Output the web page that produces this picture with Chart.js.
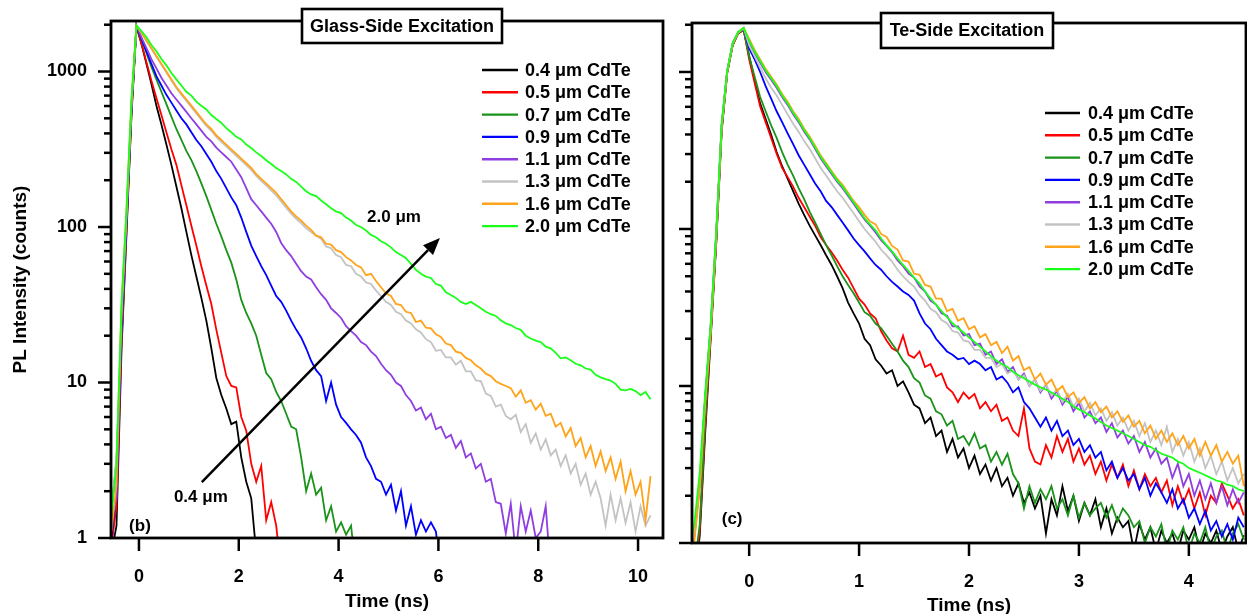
<!DOCTYPE html>
<html>
<head>
<meta charset="utf-8">
<title>PL decay</title>
<script src="https://cdn.jsdelivr.net/npm/chart.js@4.4.1/dist/chart.umd.min.js"></script>
<style>
  html, body { margin: 0; padding: 0; background: #fff; overflow: hidden; }
  #wrap { position: relative; width: 1247px; height: 614px; }
  #glassChart { position: absolute; left: 0; top: 0; }
  #teChart { position: absolute; left: 672px; top: 0; }
</style>
</head>
<body>
<div id="wrap">
  <canvas id="glassChart" width="672" height="614"></canvas>
  <canvas id="teChart" width="575" height="614"></canvas>
</div>
<script>
// ---- data ----
const seriesLabels = ["0.4 μm CdTe", "0.5 μm CdTe", "0.7 μm CdTe", "0.9 μm CdTe",
  "1.1 μm CdTe", "1.3 μm CdTe", "1.6 μm CdTe", "2.0 μm CdTe"];

const yTickValues = [1, 2, 3, 4, 5, 6, 7, 8, 9, 10, 20, 30, 40, 50, 60, 70, 80, 90,
  100, 200, 300, 400, 500, 600, 700, 800, 900, 1000, 2000];
const yTickLabels = [1, 10, 100, 1000];
const glassXTicks = [0, 2, 4, 6, 8, 10];
const teXTicks = [0, 1, 2, 3, 4];

// Glass-side excitation, time in ns
const glassTimes = [
  -0.55, -0.45, -0.35, -0.25, -0.15, -0.05, 0.05, 0.15, 0.25, 0.35,
  0.45, 0.55, 0.65, 0.75, 0.85, 0.95, 1.05, 1.15, 1.25, 1.35,
  1.45, 1.55, 1.65, 1.75, 1.85, 1.95, 2.05, 2.15, 2.25, 2.35,
  2.45, 2.55, 2.65, 2.75, 2.85, 2.95, 3.05, 3.15, 3.25, 3.35,
  3.45, 3.55, 3.65, 3.75, 3.85, 3.95, 4.05, 4.15, 4.25, 4.35,
  4.45, 4.55, 4.65, 4.75, 4.85, 4.95, 5.05, 5.15, 5.25, 5.35,
  5.45, 5.55, 5.65, 5.75, 5.85, 5.95, 6.05, 6.15, 6.25, 6.35,
  6.45, 6.55, 6.65, 6.75, 6.85, 6.95, 7.05, 7.15, 7.25, 7.35,
  7.45, 7.55, 7.65, 7.75, 7.85, 7.95, 8.05, 8.15, 8.25, 8.35,
  8.45, 8.55, 8.65, 8.75, 8.85, 8.95, 9.05, 9.15, 9.25, 9.35,
  9.45, 9.55, 9.65, 9.75, 9.85, 9.95, 10.05, 10.15, 10.25
];
const glass04 = [0.8, 1.2, 16, 90, 520, 1950, 1510, 1122, 832, 603, 457, 339, 251, 182, 132, 93,
  66, 48, 35, 25, 16.6, 10.7, 8.3, 6.8, 5.4, 5.6, 3.3, 2.3, 1.8, 0.8];
const glass05 = [0.9, 1.6, 18, 95, 540, 1960, 1514, 1148, 871, 676, 525, 407, 316, 251, 186, 138,
  102, 76, 56, 42, 32, 21.9, 15.5, 11.0, 9.5, 9.3, 6.0, 4.9, 3.0, 2.3, 2.9, 1.3, 1.7, 1.2, 0.6];
const glass07 = [1.5, 3.2, 20, 100, 560, 1970, 1622, 1318, 1072, 891, 741, 617, 513, 427, 363, 309,
  269, 229, 191, 158, 129, 105, 87, 71, 59, 46, 34, 28, 24, 20, 15.1, 11.5, 10.5, 8.7, 7.6, 6.3,
  5.2, 5.0, 3.3, 2.0, 2.6, 1.9, 2.1, 1.3, 1.6, 1.1, 1.26, 1.05, 1.2, 0.6];
const glass09 = [1.0, 2.0, 22, 105, 580, 1960, 1622, 1349, 1122, 933, 813, 708, 631, 562, 501, 457,
  407, 363, 331, 295, 263, 229, 204, 178, 155, 138, 115, 93, 76, 65, 56, 49, 42, 36, 33, 29,
  25, 21.9, 19.5, 16.6, 13.8, 12.0, 11.0, 7.6, 10.0, 7.2, 6.0, 5.5, 5.0, 4.6, 4.1, 3.3, 2.9, 2.4,
  2.3, 1.9, 2.2, 1.5, 2.0, 1.2, 1.6, 1.05, 1.3, 1.1, 1.26, 1.1, 0.6];
const glass11 = [1.3, 1.8, 24, 110, 600, 1970, 1660, 1413, 1202, 1047, 912, 813, 724, 661, 603, 550,
  501, 457, 417, 380, 355, 324, 302, 282, 263, 234, 209, 178, 151, 138, 126, 115, 105, 93, 79, 71,
  65, 58, 52, 48, 46, 41, 37, 34, 30, 28, 26, 23, 21.4, 20.0, 18.2, 17.4, 15.8, 14.8, 13.2, 12.0,
  11.2, 10.0, 9.5, 8.3, 7.6, 6.6, 6.9, 5.8, 6.3, 5.0, 5.2, 4.4, 4.6, 3.8, 4.2, 3.3, 3.5, 2.8,
  3.0, 2.3, 2.4, 1.7, 1.66, 1.07, 1.66, 0.8, 1.6, 1.1, 1.5, 1.0, 1.1, 1.6, 0.6];
const glass13 = [1.5, 3.3, 28, 120, 620, 1980,
  1770, 1570, 1400, 1245, 1105, 985, 875, 780, 708, 646,
  590, 537, 490, 447, 416, 380, 353, 330, 308, 287,
  268, 250, 233, 213, 198, 185, 172, 160, 146, 133,
  122, 113, 106, 98,
  93, 88, 84, 75, 73, 66, 64, 57, 56, 50,
  48, 44, 43, 39, 36, 33, 31.5, 28.5, 27.5, 25,
  24, 22, 21, 19, 18.2, 16, 16.2, 14.5, 14.5, 13,
  13.8, 11.8, 11.8, 10.3, 10.2, 8.5, 8.2, 7.0, 7.2, 6.1,
  5.8, 6.2, 4.8, 5.4, 4.1, 4.7, 3.7, 4.3, 3.4, 3.7,
  2.9, 3.4, 2.6, 3.0, 2.2, 2.6, 1.9, 2.3, 1.8, 1.2,
  1.9, 1.3, 1.8, 1.25, 1.7, 1.1, 1.6, 1.2, 1.4];
const glass16 = [1.1, 2.2, 30, 125, 640, 1980,
  1778, 1585, 1413, 1259, 1122, 1000, 891, 794, 724, 661,
  603, 550, 501, 457, 427, 389, 363, 339, 316, 295,
  275, 257, 240, 219, 204, 191, 178, 166, 151, 138,
  126, 117, 110, 102,
  96, 88, 86, 78, 77, 71, 69, 64, 61, 57,
  55, 49, 50, 45, 41, 37.5, 36, 32, 31.5, 28.5,
  28, 24.5, 25, 22.5, 22.3, 20.4, 19.6, 17.8, 17.4, 15.8,
  15.5, 14.4, 13.9, 12.9, 12.3, 11.4, 11.0, 10.2, 9.8, 9.5,
  9.2, 8.1, 8.9, 7.4, 7.7, 6.7, 7.3, 6.1, 6.3, 5.2,
  5.5, 4.5, 5.1, 3.9, 4.4, 3.3, 3.9, 2.9, 3.6, 2.7,
  3.3, 2.4, 3.1, 2.0, 2.7, 1.9, 2.3, 1.3, 2.5];
const glass20 = [1.4, 3.0, 32, 130, 660, 1980,
  1820, 1660, 1479, 1349, 1202, 1096, 977, 891, 813, 741,
  700, 640, 603, 570, 525, 495, 468, 432, 407, 380,
  366, 339, 322, 302, 286, 269, 254, 240, 229, 218,
  204, 195, 182, 170, 162, 158, 148, 140, 132, 126,
  123, 115, 110, 103, 100, 95, 89, 86, 81, 78,
  74, 69, 66, 63, 58, 53, 50, 48, 47, 43,
  42, 38, 36.5, 35, 33, 32, 33, 31.5, 30, 28.5,
  27.5, 26.8, 25.1, 24, 23.4, 22.4, 21.8, 20.0, 19.2, 18.6,
  18.2, 17.0, 16.6, 15.5, 14.3, 14.5, 13.9, 13.2, 12.9, 12.3,
  12.1, 11.2, 10.8, 10.5, 10.3, 9.8, 9.0, 8.9, 9.1, 8.8,
  8.3, 8.7, 7.8];

// Te-side excitation, time in ns
const teTimes = [
  -0.55, -0.5, -0.45, -0.4, -0.35, -0.3, -0.25, -0.2, -0.15, -0.1,
  -0.05, 0, 0.05, 0.1, 0.15, 0.2, 0.25, 0.3, 0.35, 0.4,
  0.45, 0.5, 0.55, 0.6, 0.65, 0.7, 0.75, 0.8, 0.85, 0.9,
  0.95, 1, 1.05, 1.1, 1.15, 1.2, 1.25, 1.3, 1.35, 1.4,
  1.45, 1.5, 1.55, 1.6, 1.65, 1.7, 1.75, 1.8, 1.85, 1.9,
  1.95, 2, 2.05, 2.1, 2.15, 2.2, 2.25, 2.3, 2.35, 2.4,
  2.45, 2.5, 2.55, 2.6, 2.65, 2.7, 2.75, 2.8, 2.85, 2.9,
  2.95, 3, 3.05, 3.1, 3.15, 3.2, 3.25, 3.3, 3.35, 3.4,
  3.45, 3.5, 3.55, 3.6, 3.65, 3.7, 3.75, 3.8, 3.85, 3.9,
  3.95, 4, 4.05, 4.1, 4.15, 4.2, 4.25, 4.3, 4.35, 4.4,
  4.45, 4.5
];
const te04 = [0.5, 0.6, 1.1, 5.0, 20, 80, 420, 980, 1480, 1760, 1850,
  1259, 891, 631, 501, 398, 309, 251, 209, 174, 145,
  123, 105, 91, 79, 68, 59, 50, 42, 34, 29,
  25, 20, 18.2, 14.8, 13.5, 12.0, 12.6, 10.0, 10.7, 9.1,
  7.6, 7.2, 5.8, 6.3, 4.8, 5.2, 3.8, 4.6, 3.5, 4.0,
  3.0, 3.6, 2.75, 3.16, 2.5, 3.0, 2.3, 2.6, 2.0, 2.4,
  1.8, 2.1, 1.66, 2.0, 1.15, 1.9, 1.5, 2.3, 1.6, 2.0,
  1.38, 1.8, 1.5, 1.9, 1.26, 1.66, 1.15, 1.45, 1.26, 1.38,
  0.89, 1.32, 1.05, 1.26, 0.89, 1.2, 1.0, 1.15, 0.89, 1.2,
  1.05, 1.26, 0.89, 1.15, 1.0, 1.2, 0.89, 1.1, 1.26, 0.89,
  1.12];
const te05 = [0.5, 0.6, 1.2, 5.5, 21, 82, 430, 990, 1490, 1770, 1860,
  1202, 851, 603, 479, 380, 302, 245, 214, 186, 158,
  138, 120, 105, 89, 79, 71, 63, 55, 49, 42,
  36, 33, 29, 27, 22.4, 19.5, 17.4, 16.6, 20.9, 15.8,
  15.1, 16.6, 13.2, 13.8, 11.5, 12.0, 9.8, 9.1, 7.9, 9.1,
  8.3, 8.9, 7.2, 7.9, 6.9, 7.6, 6.0, 6.3, 5.2, 4.8,
  7.2, 4.0, 3.3, 3.16, 4.2, 3.5, 4.8, 3.8, 4.6, 3.3,
  4.0, 3.16, 3.6, 2.75, 3.3, 2.5, 3.16, 2.6, 3.16, 2.3,
  2.9, 2.2, 2.75, 2.3, 2.6, 2.1, 2.5, 1.74, 2.3, 1.8,
  2.2, 1.66, 2.1, 1.5, 2.0, 1.8, 2.4, 2.0, 1.66, 1.9,
  1.5];
const te07 = [0.5, 0.7, 1.3, 6.0, 22, 85, 440, 1000, 1500, 1780, 1860,
  1259, 933, 692, 562, 457, 380, 309, 257, 219, 182,
  155, 129, 110, 93, 79, 68, 58, 50, 44, 39,
  34, 29.5, 28, 25, 23.4, 20.9, 18.6, 16.6, 14.5, 13.2,
  11.2, 10.5, 8.7, 8.3, 6.9, 6.6, 5.6, 6.0, 4.6, 4.8,
  4.2, 5.0, 4.0, 4.2, 3.3, 3.8, 3.16, 3.7, 2.75, 2.4,
  1.66, 2.3, 1.8, 2.2, 1.9, 2.3, 1.66, 1.9, 1.5, 2.0,
  1.45, 1.8, 1.5, 1.66, 1.8, 1.45, 1.74, 1.38, 1.66, 1.5,
  1.26, 1.38, 1.0, 1.26, 1.1, 1.32, 0.89, 1.2, 1.05, 1.26,
  0.89, 1.15, 1.0, 1.26, 0.89, 1.1, 1.2, 0.89, 1.15, 1.32,
  1.05];
const te09 = [0.7, 1.1, 2.4, 8.5, 24, 92, 460, 1010, 1520, 1790, 1900,
  1413, 1202, 1000, 813, 676, 562, 479, 407, 347, 295,
  257, 224, 195, 174, 151, 138, 123, 110, 98, 87,
  79, 72, 65, 59, 55, 50, 46, 43, 40, 38,
  35, 29, 25, 23, 20, 18.2, 16.6, 15.8, 14.8, 15.1,
  13.8, 14.5, 13.8, 12.6, 13.2, 11.0, 11.5, 10.5, 9.1, 9.8,
  7.9, 7.2, 6.3, 5.5, 6.3, 5.2, 6.0, 4.8, 5.2, 4.2,
  4.6, 3.8, 4.2, 3.5, 3.8, 2.9, 3.3, 2.6, 3.0, 2.5,
  2.75, 2.2, 2.6, 2.0, 2.4, 2.1, 1.8, 2.2, 1.66, 1.9,
  1.45, 1.66, 1.32, 1.6, 1.2, 1.38, 1.1, 1.32, 1.05, 1.45,
  1.26];
const te11 = [0.7, 1.1, 2.3, 8.2, 23, 90, 455, 1005, 1515, 1785, 1900,
  1549, 1318, 1148, 1000, 891, 794, 692, 617, 537, 479,
  417, 372, 324, 282, 251, 224, 200, 182, 162, 145,
  129, 115, 105, 95, 85, 78, 71, 63, 58, 52,
  49, 43, 40, 35, 33, 29, 28, 24, 24, 21,
  21.4, 18.2, 18.6, 15.8, 16.6, 13.8, 14.8, 12.3, 13.2, 11.0,
  12.0, 10.0, 11.0, 9.1, 10.2, 8.3, 9.3, 7.6, 8.5, 6.9,
  7.8, 6.3, 6.9, 5.8, 6.3, 5.1, 5.8, 4.7, 5.2, 4.3,
  4.8, 3.8, 4.4, 3.5, 4.0, 3.2, 3.5, 2.6, 3.2, 2.3,
  2.75, 2.0, 2.5, 1.9, 2.4, 1.8, 2.3, 1.74, 2.2, 1.8,
  2.1];
const te13 = [0.8, 1.2, 2.5, 8.0, 23, 90, 455, 1005, 1515, 1785, 1900,
  1479, 1259, 1072, 912, 794, 708, 617, 537, 468, 417,
  363, 324, 282, 245, 219, 195, 174, 158, 141, 126,
  112, 100, 91, 83, 74, 68, 62, 55, 50, 46,
  43, 38, 35, 31, 29.5, 26.3, 25.1, 22.4, 21.9, 19.5,
  19.1, 17.0, 17.0, 15.1, 15.1, 13.2, 13.8, 12.0, 12.6, 11.0,
  11.7, 10.0, 11.0, 9.3, 10.2, 8.7, 9.5, 7.9, 8.9, 7.4,
  8.3, 6.9, 7.8, 6.5, 7.2, 6.0, 6.8, 5.6, 6.3, 5.2,
  6.0, 4.8, 5.8, 4.4, 5.2, 4.2, 5.5, 3.8, 4.6, 3.6,
  4.4, 3.3, 4.0, 3.0, 3.6, 2.75, 3.3, 2.5, 3.0, 2.4,
  2.75];
const te16 = [0.7, 1.0, 2.2, 7.9, 22, 89, 450, 1000, 1510, 1780, 1910,
  1622, 1380, 1202, 1047, 933, 832, 724, 646, 562, 501,
  437, 389, 339, 295, 263, 234, 209, 191, 170, 151,
  138, 123, 112, 107, 93, 89, 78, 74, 63, 62,
  52, 51, 44, 43, 36, 36, 30, 31, 26, 27,
  23, 24, 20.4, 21.4, 18.2, 19.1, 16.2, 17.8, 14.5, 15.5,
  12.6, 13.2, 11.0, 12.0, 10.2, 11.0, 9.3, 10.0, 8.5, 9.1,
  7.8, 8.5, 7.2, 7.9, 6.8, 7.4, 6.3, 6.9, 5.9, 6.5,
  5.5, 6.0, 5.0, 5.6, 4.6, 5.2, 4.4, 5.0, 4.2, 4.8,
  4.0, 4.6, 3.6, 4.4, 3.6, 4.2, 3.3, 3.8, 3.2, 3.6,
  2.3];
const te20 = [0.9, 1.3, 2.8, 9.0, 25, 95, 470, 1020, 1530, 1800, 1910,
  1585, 1349, 1175, 1023, 912, 813, 708, 631, 550, 490,
  427, 380, 331, 288, 257, 229, 204, 186, 166, 148,
  132, 117, 107, 98, 87, 79, 72, 65, 59, 54,
  49, 45, 40, 36, 33, 30, 27.5, 25.1, 23.4, 21.9,
  20.4, 19.1, 17.8, 16.6, 15.5, 14.5, 13.8, 13.2, 12.3, 11.7,
  11.2, 10.7, 10.2, 9.8, 9.5, 9.1, 8.7, 8.3, 7.9, 7.4,
  7.1, 6.8, 6.5, 6.2, 5.9, 5.6, 5.4, 5.2, 5.0, 4.8,
  4.6, 4.4, 4.2, 4.1, 3.9, 3.7, 3.6, 3.5, 3.3, 3.2,
  3.0, 2.9, 2.8, 2.7, 2.6, 2.5, 2.45, 2.35, 2.3, 2.2,
  2.14];

const glassSeries = [glass04, glass05, glass07, glass09, glass11, glass13, glass16, glass20];
const teSeries = [te04, te05, te07, te09, te11, te13, te16, te20];

// ---- styling ----
const seriesColors = ["#000000", "#ff0000", "#1a931a", "#0000ff", "#8f3fe0", "#c3c3c3", "#ffa31a", "#1aff1a"];
const FAMILY = '"Liberation Sans", Arial, Helvetica, sans-serif';

function buildDatasets(times, series) {
  return series.map((vals, i) => ({
    label: seriesLabels[i],
    data: vals.map((v, k) => ({ x: times[k], y: v })),
    borderColor: seriesColors[i],
    borderWidth: 1.8,
    pointRadius: 0,
    tension: 0,
    fill: false,
    clip: 0,
    order: series.length - i, // 2.0 um drawn on top
  }));
}

function isDecade(v) {
  return yTickLabels.includes(v);
}

// frame, tick marks, legend, title box and notes
const panelDecor = {
  id: "panelDecor",
  afterDraw(chart, args, opts) {
    const { ctx, chartArea: a } = chart;
    const x = chart.scales.x, y = chart.scales.y;
    ctx.save();
    ctx.strokeStyle = "#000";
    ctx.fillStyle = "#000";

    ctx.lineWidth = 2.5;
    y.ticks.forEach((t) => {
      const py = y.getPixelForValue(t.value);
      const len = isDecade(t.value) ? 13 : 7;
      ctx.beginPath();
      ctx.moveTo(a.left, py);
      ctx.lineTo(a.left - len, py);
      ctx.stroke();
    });
    x.ticks.forEach((t) => {
      const px = x.getPixelForValue(t.value);
      ctx.beginPath();
      ctx.moveTo(px, a.bottom);
      ctx.lineTo(px, a.bottom + 13);
      ctx.stroke();
    });

    ctx.lineWidth = 2.8;
    ctx.strokeRect(a.left, a.top, a.right - a.left, a.bottom - a.top);

    // arrow (data coordinates)
    if (opts.arrow) {
      const x0 = x.getPixelForValue(opts.arrow.from[0]);
      const y0 = y.getPixelForValue(opts.arrow.from[1]);
      const x1 = x.getPixelForValue(opts.arrow.to[0]);
      const y1 = y.getPixelForValue(opts.arrow.to[1]);
      const ang = Math.atan2(y1 - y0, x1 - x0);
      const head = 17, half = 7;
      const bx = x1 - head * Math.cos(ang), by = y1 - head * Math.sin(ang);
      ctx.lineWidth = 2.5;
      ctx.beginPath();
      ctx.moveTo(x0, y0);
      ctx.lineTo(bx, by);
      ctx.stroke();
      ctx.beginPath();
      ctx.moveTo(x1, y1);
      ctx.lineTo(bx + half * Math.sin(ang), by - half * Math.cos(ang));
      ctx.lineTo(bx - half * Math.sin(ang), by + half * Math.cos(ang));
      ctx.closePath();
      ctx.fill();
    }

    ctx.textAlign = "center";
    ctx.textBaseline = "middle";
    (opts.notes || []).forEach((n) => {
      ctx.font = "bold " + n.size + "px " + FAMILY;
      ctx.fillText(n.text, x.getPixelForValue(n.at[0]), y.getPixelForValue(n.at[1]));
    });

    // boxed title
    const b = opts.box;
    ctx.fillStyle = "#fff";
    ctx.fillRect(b.left, b.top, b.width, b.height);
    ctx.lineWidth = 2.6;
    ctx.strokeRect(b.left, b.top, b.width, b.height);
    ctx.fillStyle = "#000";
    ctx.font = "bold 18px " + FAMILY;
    ctx.fillText(b.text, b.left + b.width / 2, b.top + b.height / 2 + 1);

    // legend
    const lg = opts.legend;
    ctx.textAlign = "left";
    ctx.font = "bold 18px " + FAMILY;
    chart.data.datasets.forEach((ds, i) => {
      const ly = lg.top + i * lg.step;
      ctx.strokeStyle = ds.borderColor;
      ctx.lineWidth = 2.4;
      ctx.beginPath();
      ctx.moveTo(lg.x1, ly);
      ctx.lineTo(lg.x2, ly);
      ctx.stroke();
      ctx.fillStyle = "#000";
      ctx.fillText(ds.label, lg.textX, ly + 1);
    });
    ctx.restore();
  },
};

function makeChart(canvasId, cfg) {
  const tickFont = { family: FAMILY, size: 18, weight: "bold" };
  const titleFont = { family: FAMILY, size: 19, weight: "bold" };
  return new Chart(document.getElementById(canvasId), {
    type: "line",
    data: { datasets: buildDatasets(cfg.times, cfg.series) },
    plugins: [panelDecor],
    options: {
      responsive: false,
      animation: false,
      devicePixelRatio: 1,
      events: [],
      layout: { padding: cfg.padding },
      plugins: {
        legend: { display: false },
        tooltip: { enabled: false },
        panelDecor: cfg.decor,
      },
      scales: {
        x: {
          type: "linear",
          min: cfg.xMin,
          max: cfg.xMax,
          afterBuildTicks: (s) => { s.ticks = cfg.xTicks.map((v) => ({ value: v })); },
          afterFit: (s) => { s.height = cfg.xHeight; s.paddingLeft = 0; s.paddingRight = 0; },
          grid: { display: false, drawTicks: false, tickLength: 0 },
          border: { display: false },
          ticks: { autoSkip: false, maxRotation: 0, padding: 28, color: "#000", font: tickFont,
            callback: (v) => String(v) },
          title: { display: true, text: "Time (ns)", color: "#000", font: titleFont,
            padding: { top: 0, bottom: cfg.xTitlePad } },
        },
        y: {
          type: "logarithmic",
          min: 1,
          max: cfg.yMax,
          afterBuildTicks: (s) => { s.ticks = yTickValues.map((v) => ({ value: v })); },
          afterFit: (s) => { s.width = cfg.yWidth; s.paddingTop = 0; s.paddingBottom = 0; },
          grid: { display: false, drawTicks: false, tickLength: 0 },
          border: { display: false },
          ticks: { autoSkip: false, padding: 24, color: "#000", font: tickFont,
            callback: (v) => (cfg.yLabels && yTickLabels.includes(v) ? String(v) : "") },
          title: { display: cfg.yLabels, text: "PL Intensity (counts)", color: "#000", font: titleFont,
            padding: { top: 9, bottom: 0 } },
        },
      },
    },
  });
}

makeChart("glassChart", {
  times: glassTimes,
  series: glassSeries,
  xMin: -0.56, xMax: 10.5, xTicks: glassXTicks,
  yMax: 2113,
  padding: { top: 21, right: 9, left: 0, bottom: 0 },
  xHeight: 76, yWidth: 111, xTitlePad: 1, yLabels: true,
  decor: {
    box: { text: "Glass-Side Excitation", left: 302, top: 9, width: 200, height: 34 },
    legend: { x1: 482, x2: 518, textX: 525, top: 70, step: 22.3 },
    arrow: { from: [1.26, 2.29], to: [6.03, 85] },
    notes: [
      { text: "2.0 μm", at: [5.11, 116], size: 17 },
      { text: "0.4 μm", at: [1.24, 1.84], size: 17 },
      { text: "(b)", at: [0.02, 1.19], size: 17 },
    ],
  },
});

makeChart("teChart", {
  times: teTimes,
  series: teSeries,
  xMin: -0.52, xMax: 4.52, xTicks: teXTicks,
  yMax: 2051,
  padding: { top: 23, right: 1, left: 0, bottom: 0 },
  xHeight: 71, yWidth: 20, xTitlePad: -3, yLabels: false,
  decor: {
    box: { text: "Te-Side Excitation", left: 209, top: 13, width: 172, height: 35 },
    legend: { x1: 373, x2: 408, textX: 416, top: 113, step: 22.3 },
    notes: [
      { text: "(c)", at: [-0.155, 1.42], size: 17 },
    ],
  },
});
</script>
</body>
</html>
